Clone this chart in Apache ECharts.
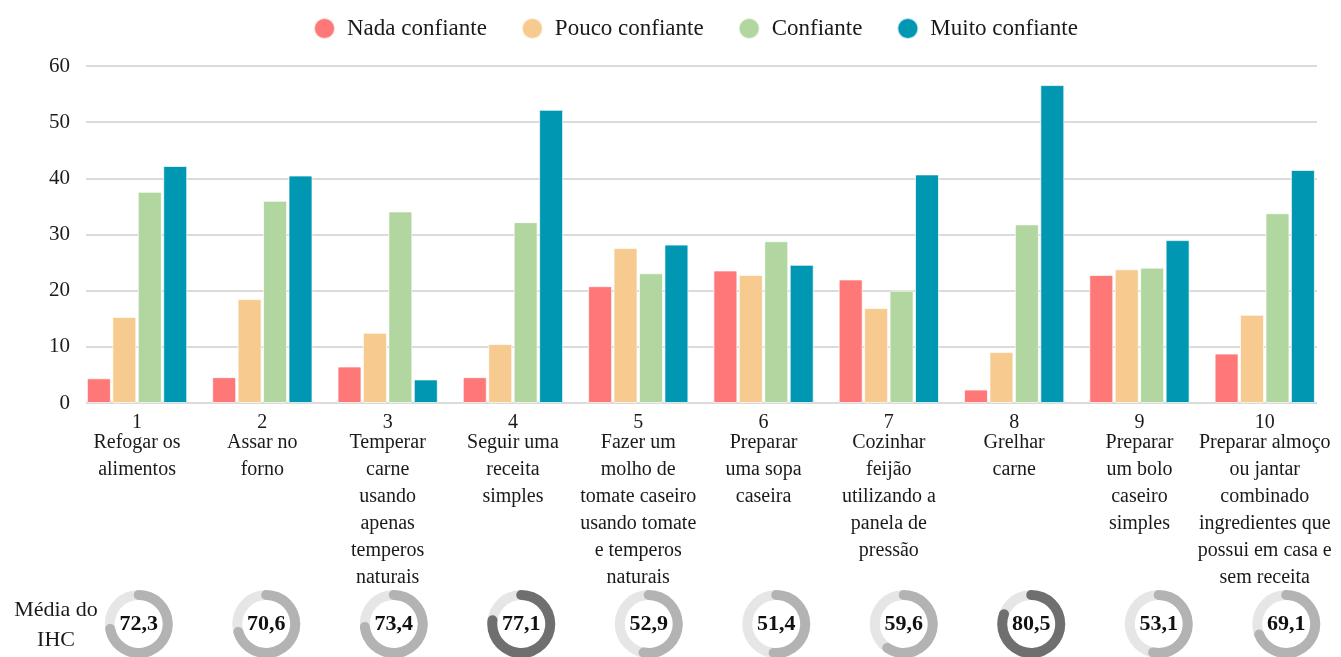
<!DOCTYPE html>
<html>
<head>
<meta charset="utf-8">
<script src="https://cdn.jsdelivr.net/npm/echarts@6/dist/echarts.min.js"></script>
<style>
  html, body { margin: 0; padding: 0; background: #fff; }
  #chart { width: 1341px; height: 657px; }
</style>
</head>
<body>
<div id="chart"></div>
<script>
let categoryNumbers = ['1', '2', '3', '4', '5', '6', '7', '8', '9', '10'];
let categoryNames = [
    'Refogar os\nalimentos',
    'Assar no\nforno',
    'Temperar\ncarne\nusando\napenas\ntemperos\nnaturais',
    'Seguir uma\nreceita\nsimples',
    'Fazer um\nmolho de\ntomate caseiro\nusando tomate\ne temperos\nnaturais',
    'Preparar\numa sopa\ncaseira',
    'Cozinhar\nfeijão\nutilizando a\npanela de\npressão',
    'Grelhar\ncarne',
    'Preparar\num bolo\ncaseiro\nsimples',
    'Preparar almoço\nou jantar\ncombinado\ningredientes que\npossui em casa e\nsem receita'
];
let seriesNames = ['Nada confiante', 'Pouco confiante', 'Confiante', 'Muito confiante'];
let nadaData = [4.4, 4.6, 6.5, 4.6, 20.8, 23.6, 22.0, 2.4, 22.8, 8.8];
let poucoData = [15.3, 18.5, 12.5, 10.5, 27.6, 22.8, 16.9, 9.1, 23.8, 15.7];
let confianteData = [37.6, 36.0, 34.1, 32.2, 23.1, 28.8, 20.0, 31.8, 24.1, 33.8];
let muitoData = [42.2, 40.5, 4.2, 52.2, 28.2, 24.6, 40.7, 56.6, 29.0, 41.5];
let ihcMedia = [72.3, 70.6, 73.4, 77.1, 52.9, 51.4, 59.6, 80.5, 53.1, 69.1];
let yTicks = [0, 60, 10];   // min, max, interval

let colors = ['#fe7878', '#f7ca8f', '#b1d69f', '#0097b2'];
let serif = 'Liberation Serif, Times New Roman, serif';

let chart = echarts.init(document.getElementById('chart'));

let barSeries = [nadaData, poucoData, confianteData, muitoData].map(function (d, i) {
    return {
        name: seriesNames[i],
        type: 'bar',
        xAxisIndex: 1,
        yAxisIndex: 1,
        barWidth: 24,
        barGap: '6%',
        itemStyle: {
            color: colors[i],
            borderColor: 'rgba(255,255,255,0.7)',
            borderWidth: 1,
            borderRadius: 1
        },
        data: d
    };
});

let xLabels = categoryNames.map(function (n, i) {
    return categoryNumbers[i] + '\n' + n;
});

let option = {
    animation: false,
    color: colors,
    legend: {
        data: seriesNames,
        left: 308,
        top: 12,
        icon: 'circle',
        itemWidth: 21,
        itemHeight: 21,
        itemGap: 34,
        textStyle: {
            fontFamily: serif,
            fontSize: 23,
            color: '#1a1a1a',
            padding: [0, 0, 0, 7]
        }
    },
    grid: [
        { left: 86, right: 24, top: 66, bottom: 254, outerBoundsMode: 'none' },
        { left: 74.4, width: 1253, top: 66, bottom: 254, outerBoundsMode: 'none' },
        { left: 75, width: 1275, top: 66, bottom: 254, outerBoundsMode: 'none' }
    ],
    xAxis: [
        { type: 'value', gridIndex: 0, show: false },
        {
            type: 'category',
            gridIndex: 1,
            data: xLabels,
            axisLine: { show: false },
            axisTick: { show: false },
            axisLabel: {
                interval: 0,
                margin: 13,
                formatter: function (v) {
                    let parts = v.split('\n');
                    let first = '{n|' + parts[0] + '}';
                    let rest = parts.slice(1).map(function (p) { return '{t|' + p + '}'; });
                    return [first].concat(rest).join('\n');
                },
                rich: {
                    n: { fontFamily: serif, fontSize: 20, color: '#1a1a1a', lineHeight: 13 },
                    t: { fontFamily: serif, fontSize: 20, color: '#1a1a1a', lineHeight: 27 }
                }
            }
        },
        { type: 'category', gridIndex: 2, data: categoryNumbers, show: false }
    ],
    yAxis: [
        {
            type: 'value',
            gridIndex: 0,
            min: yTicks[0],
            max: yTicks[1],
            interval: yTicks[2],
            axisLine: { show: false },
            axisTick: { show: false },
            axisLabel: {
                margin: 16,
                fontFamily: serif,
                fontSize: 21,
                color: '#1a1a1a'
            },
            splitLine: { lineStyle: { color: '#cfcfcf', width: 1.5 } }
        },
        { type: 'value', gridIndex: 1, min: yTicks[0], max: yTicks[1], show: false },
        { type: 'value', gridIndex: 2, min: 0, max: 1, show: false }
    ],
    graphic: [{
        type: 'text',
        x: 56,
        y: 625,
        style: {
            text: 'Média do\nIHC',
            align: 'center',
            verticalAlign: 'middle',
            lineHeight: 30,
            fontFamily: serif,
            fontSize: 22,
            fill: '#1a1a1a'
        }
    }],
    series: barSeries
};

chart.setOption(option);

// donuts with IHC mean, placed using the hidden category axis
let gaugeSeries = ihcMedia.map(function (v, i) {
    let cx = chart.convertToPixel({ xAxisIndex: 2 }, i);
    let c = v >= 75 ? '#6f6f6f' : '#b3b3b3';
    return {
        type: 'gauge',
        center: [cx, 624],
        radius: 34,
        min: 0,
        max: 100,
        startAngle: 90,
        endAngle: -270,
        pointer: { show: false },
        anchor: { show: false },
        title: { show: false },
        splitLine: { show: false },
        axisTick: { show: false },
        axisLabel: { show: false },
        axisLine: { lineStyle: { width: 10, color: [[1, '#e6e6e6']] } },
        progress: { show: true, width: 10, roundCap: true, itemStyle: { color: c } },
        detail: {
            offsetCenter: [0, 0],
            fontFamily: serif,
            fontWeight: 'bold',
            fontSize: 22,
            color: '#111',
            formatter: function (val) { return val.toFixed(1).replace('.', ','); }
        },
        data: [{ value: v }]
    };
});

chart.setOption({ series: barSeries.concat(gaugeSeries) });
</script>
</body>
</html>
